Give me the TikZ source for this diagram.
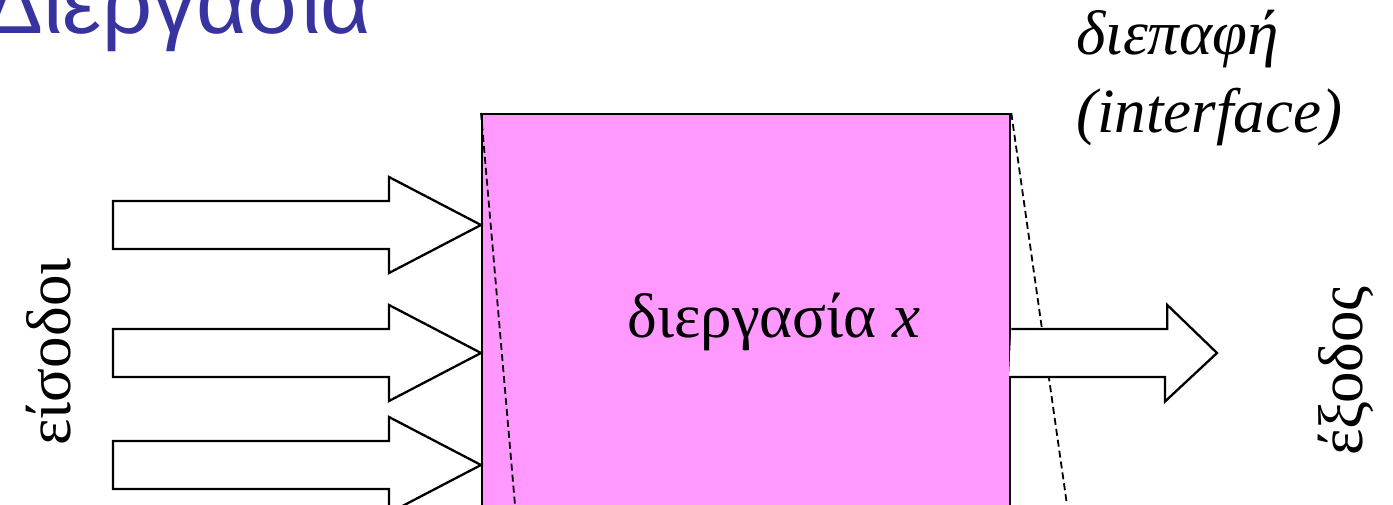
\documentclass[tikz,border=0pt]{standalone}
\usepackage{fontspec}
\setmainfont{Liberation Serif}
\newfontfamily\titlefont{Liberation Sans}
\definecolor{boxpink}{RGB}{255,153,255}
\definecolor{titleblue}{RGB}{55,52,160}
\tikzset{
  fatarrow/.style={draw=black, line width=2.3pt, fill=white, line join=miter},
  procbox/.style={draw=black, line width=2.3pt, fill=boxpink, inner sep=0pt, anchor=north west},
  iface/.style={draw=black, line width=1.8pt, dash pattern=on 7pt off 4pt},
  lbl/.style={inner sep=0pt, font=\fontsize{63}{70}\selectfont},
  ilbl/.style={inner sep=0pt, anchor=base west, font=\fontsize{63}{70}\selectfont\itshape},
}
\begin{document}
\begin{tikzpicture}[x=1pt,y=-1pt]
\useasboundingbox (0,0) rectangle (1393,505);
\clip (0,0) rectangle (1393,505);
% title
\node[inner sep=0pt, anchor=base east, text=titleblue, font=\fontsize{88}{96}\selectfont\titlefont] (title) at (372,34) {Διεργασία};
% process box
\node[procbox, minimum width=528pt, minimum height=460pt] (proc) at (481,113) {};
\node[lbl, anchor=base] (ptext) at (774,337) {διεργασία \textit{x}};
% interface dashed lines
\coordinate (lbot) at (515,505);
\coordinate (rbot) at (1067,505);
\draw[iface] (proc.north west) -- (lbot);
\draw[iface] (proc.north east) -- (rbot);
% input arrows
\foreach \n/\y in {1/225,2/353,3/465}{
  \coordinate (in\n) at (481,\y);
  \draw[fatarrow] (in\n) -- ++(-92,-48) -- ++(0,24) -- ++(-276,0) -- ++(0,48) -- ++(276,0) -- ++(0,24) -- cycle;
}
% output arrow
\coordinate (out) at (1217,353);
\draw[fatarrow] (proc.east |- out) ++(0,-24) -- ++(156,0) -- ++(0,-24) -- (out) -- ++(-52,48.5) -- ++(0,-24.5) -- ++(-156,0);
% labels
\node[lbl, rotate=90] (inlbl) at (49,352) {είσοδοι};
\node[lbl, rotate=90] (outlbl) at (1346,371) {έξοδος};
\node[ilbl] (iface1) at (1076,55) {διεπαφή};
\node[ilbl] (iface2) at (1076,133) {(interface)};
\end{tikzpicture}
\end{document}
